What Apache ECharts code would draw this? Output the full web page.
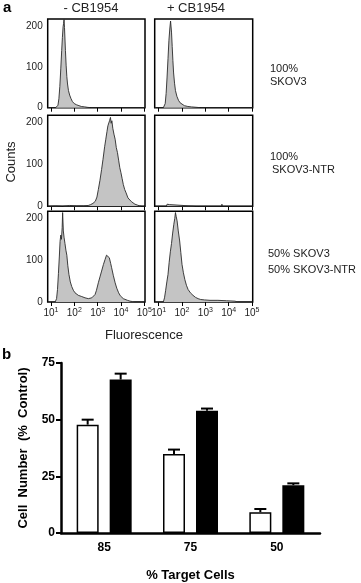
<!DOCTYPE html>
<html>
<head>
<meta charset="utf-8">
<script src="https://cdn.jsdelivr.net/npm/echarts@6/dist/echarts.min.js"></script>
<style>
	html, body { margin: 0; padding: 0; background: #fff; }
	#chart { width: 361px; height: 583px; }
</style>
</head>
<body>
<div id="chart"></div>
<script>
	// panel a: histograms, x = log10(fluorescence), y = counts
	const logTicks = [1, 2, 3, 4, 5];
	const countTicks = [0, 100, 200];
	const skov3Minus = [[0.86,0],[1.2,0],[1.26,2],[1.3,6],[1.34,22],[1.38,52],[1.42,95],[1.46,140],[1.49,172],[1.52,198],[1.54,206],[1.56,216],[1.58,196],[1.6,168],[1.62,140],[1.65,104],[1.68,76],[1.71,58],[1.75,42],[1.8,31],[1.86,22],[1.92,15],[2.0,10],[2.1,7],[2.2,5],[2.3,3],[2.45,2],[2.55,1],[2.7,0],[5.03,0]];
	const skov3Plus = [[0.83,0],[1.2,0],[1.24,3],[1.28,10],[1.32,35],[1.36,75],[1.4,120],[1.44,165],[1.48,195],[1.51,212],[1.53,208],[1.55,185],[1.58,150],[1.61,115],[1.64,85],[1.68,60],[1.72,42],[1.78,28],[1.85,18],[1.92,12],[2.0,8],[2.1,5],[2.25,3],[2.4,2],[2.6,1],[2.8,0],[5.03,0]];
	const ntrMinus = [[0.86,0],[1.2,1],[1.5,0],[1.8,2],[2.1,1],[2.4,1],[2.6,2],[2.7,4],[2.8,7],[2.9,12],[2.97,22],[3.03,40],[3.1,62],[3.17,88],[3.23,112],[3.3,142],[3.35,160],[3.4,178],[3.44,192],[3.48,188],[3.51,204],[3.55,212],[3.58,198],[3.61,204],[3.65,186],[3.7,172],[3.75,160],[3.8,140],[3.85,128],[3.9,110],[3.95,92],[4.0,80],[4.05,66],[4.1,52],[4.16,40],[4.22,32],[4.3,20],[4.38,16],[4.45,11],[4.52,8],[4.6,5],[4.7,3],[4.8,1],[4.9,0],[5.03,0]];
	const ntrPlus = [[0.83,0],[1.18,0],[1.21,4],[1.24,0],[1.33,0],[1.36,5],[1.39,1],[1.47,4],[1.52,0],[2.6,0],[2.65,1],[2.7,0],[3.69,0],[3.71,5],[3.74,0],[5.03,0]];
	const mixMinus = [[0.86,0],[1.18,0],[1.24,8],[1.28,30],[1.32,68],[1.36,110],[1.39,145],[1.42,160],[1.45,150],[1.48,178],[1.5,214],[1.53,170],[1.56,155],[1.6,140],[1.64,124],[1.68,112],[1.72,88],[1.77,66],[1.83,48],[1.89,37],[1.96,28],[2.03,22],[2.1,19],[2.17,16],[2.25,14],[2.32,13],[2.4,11],[2.46,10],[2.53,9],[2.6,8],[2.68,9],[2.75,10],[2.82,13],[2.89,18],[2.95,28],[3.03,46],[3.1,60],[3.17,74],[3.25,90],[3.32,102],[3.38,112],[3.42,116],[3.46,108],[3.5,106],[3.56,92],[3.6,82],[3.67,64],[3.75,46],[3.82,33],[3.9,22],[3.97,15],[4.03,11],[4.1,8],[4.18,6],[4.28,4],[4.39,2],[4.5,1],[4.6,0],[5.03,0]];
	const mixPlus = [[0.83,0],[1.2,0],[1.25,10],[1.3,28],[1.35,48],[1.4,66],[1.45,95],[1.5,120],[1.55,140],[1.6,165],[1.65,186],[1.69,200],[1.72,214],[1.75,205],[1.79,194],[1.84,170],[1.9,146],[1.95,118],[2.0,90],[2.06,70],[2.12,54],[2.19,40],[2.26,30],[2.36,22],[2.47,16],[2.58,11],[2.69,8],[2.8,6],[2.97,5],[3.2,4],[3.54,4],[3.9,3],[4.27,2],[4.4,0],[5.03,0]];

	// panel b: bar chart
	const targetCells = ['85', '75', '50'];
	const openBars = [47.8, 34.9, 9.2];
	const openErr = [2.2, 1.9, 1.4];
	const filledBars = [67.7, 53.9, 21.1];
	const filledErr = [2.6, 1.0, 0.8];

	const FONT = 'Liberation Sans, Arial, sans-serif';
	const chart = echarts.init(document.getElementById('chart'), null, { renderer: 'canvas' });

	// histogram grid boxes (left column / right column)
	const cols = [{ left: 47.7, width: 97.3, min: 0.86 }, { left: 154.7, width: 98, min: 0.83 }];
	const rows = [{ top: 19, height: 88.7 }, { top: 115.3, height: 91 }, { top: 211.3, height: 90.7 }];
	const hists = [skov3Minus, skov3Plus, ntrMinus, ntrPlus, mixMinus, mixPlus];

	const grid = [], xAxis = [], yAxis = [], series = [];
	hists.forEach(function (h, i) {
		const r = Math.floor(i / 2), c = i % 2;
		grid.push({
			left: cols[c].left, top: rows[r].top, width: cols[c].width, height: rows[r].height,
			show: true, borderColor: '#000', borderWidth: 1.5, backgroundColor: 'transparent'
		});
		xAxis.push({
			type: 'value', gridIndex: i, min: cols[c].min, max: 5.03,
			axisLine: { show: false }, splitLine: { show: false },
			axisTick: { show: true, customValues: logTicks, length: 4, lineStyle: { color: '#000', width: 1 } },
			axisLabel: {
				show: r === 2, customValues: logTicks, margin: 5,
				formatter: function (v) { return '{b|10}{s|' + v + '}'; },
				rich: {
					b: { fontSize: 10, fontFamily: FONT, color: '#222' },
					s: { fontSize: 7, fontFamily: FONT, color: '#222', padding: [0, 0, 6, 0] }
				}
			}
		});
		yAxis.push({
			type: 'value', gridIndex: i, min: 0, max: 217,
			axisLine: { show: false }, axisTick: { show: false }, splitLine: { show: false },
			axisLabel: { show: c === 0, customValues: countTicks, fontSize: 10, fontFamily: FONT, color: '#222', margin: 5 }
		});
		series.push({
			type: 'line', xAxisIndex: i, yAxisIndex: i, data: h, symbol: 'none', silent: true,
			lineStyle: { color: '#2a2a2a', width: 0.9 },
			areaStyle: { color: '#c4c4c4', opacity: 1 }
		});
	});

	// bar chart grid
	grid.push({ left: 61, top: 363, width: 259, height: 174 });
	xAxis.push({
		type: 'category', gridIndex: 6, data: targetCells,
		axisLine: { lineStyle: { color: '#000', width: 2.5 } },
		axisTick: { alignWithLabel: true, length: 6, lineStyle: { color: '#000', width: 2 } },
		axisLabel: { fontSize: 12, fontWeight: 'bold', fontFamily: FONT, color: '#000', margin: 9 },
		name: '% Target Cells', nameLocation: 'middle', nameGap: 36,
		nameTextStyle: { fontSize: 13, fontWeight: 'bold', fontFamily: FONT, color: '#000' }
	});
	yAxis.push({
		type: 'value', gridIndex: 6, min: 0, max: 75, interval: 25,
		axisLine: { show: true, lineStyle: { color: '#000', width: 2.5 } },
		axisTick: { show: true, length: 5, lineStyle: { color: '#000', width: 2 } },
		splitLine: { show: false },
		axisLabel: { fontSize: 12, fontWeight: 'bold', fontFamily: FONT, color: '#000', margin: 6 },
		name: 'Cell  Number  (%  Control)', nameLocation: 'middle', nameGap: 31,
		nameTextStyle: { fontSize: 13, fontWeight: 'bold', fontFamily: FONT, color: '#000' }
	});

	const BAR_W = 22, BAR_GAP = 11;
	series.push({
		type: 'bar', xAxisIndex: 6, yAxisIndex: 6, data: openBars, barWidth: BAR_W, barGap: '50%',
		itemStyle: { color: '#fff', borderColor: '#000', borderWidth: 1.5 }
	});
	series.push({
		type: 'bar', xAxisIndex: 6, yAxisIndex: 6, data: filledBars, barWidth: BAR_W, barGap: '50%',
		itemStyle: { color: '#000' }
	});

	// error bars (upper only), shifted onto each bar of the pair
	function errorSeries(vals, errs, shift) {
		return {
			type: 'custom', xAxisIndex: 6, yAxisIndex: 6, z: 5,
			data: vals.map(function (v, i) { return [i, v, v + errs[i]]; }),
			renderItem: function (params, api) {
				const lo = api.coord([api.value(0), api.value(1)]);
				const hi = api.coord([api.value(0), api.value(2)]);
				const cx = lo[0] + shift;
				const st = { stroke: '#000', lineWidth: 2 };
				return {
					type: 'group', children: [
						{ type: 'line', shape: { x1: cx, y1: lo[1], x2: cx, y2: hi[1] }, style: st },
						{ type: 'line', shape: { x1: cx - 6, y1: hi[1], x2: cx + 6, y2: hi[1] }, style: st }
					]
				};
			}
		};
	}
	const shift = (BAR_W + BAR_GAP) / 2;
	series.push(errorSeries(openBars, openErr, -shift));
	series.push(errorSeries(filledBars, filledErr, shift));

	// free texts
	function txt(x, y, s, o) {
		return {
			type: 'text', x: x, y: y,
			style: Object.assign({ text: s, fontSize: 11, fontFamily: FONT, fill: '#222', textVerticalAlign: 'middle' }, o || {})
		};
	}
	const graphic = [
		txt(3, 8, 'a', { fontSize: 15, fontWeight: 'bold', fill: '#000' }),
		txt(91, 8, '- CB1954', { fontSize: 13, textAlign: 'center' }),
		txt(196, 8, '+ CB1954', { fontSize: 13, textAlign: 'center' }),
		txt(270, 69, '100%'),
		txt(270, 82, 'SKOV3'),
		txt(270, 157, '100%'),
		txt(272, 170, 'SKOV3-NTR'),
		txt(268, 254, '50% SKOV3'),
		txt(268, 270, '50% SKOV3-NTR'),
		txt(144, 335, 'Fluorescence', { fontSize: 13, textAlign: 'center' }),
		{
			type: 'text', x: 11, y: 162, rotation: Math.PI / 2,
			style: { text: 'Counts', fontSize: 13, fontFamily: FONT, fill: '#222', textAlign: 'center', textVerticalAlign: 'middle' }
		},
		txt(2, 355, 'b', { fontSize: 15, fontWeight: 'bold', fill: '#000' })
	];

	chart.setOption({
		animation: false,
		grid: grid, xAxis: xAxis, yAxis: yAxis, series: series, graphic: graphic
	});
</script>
</body>
</html>
